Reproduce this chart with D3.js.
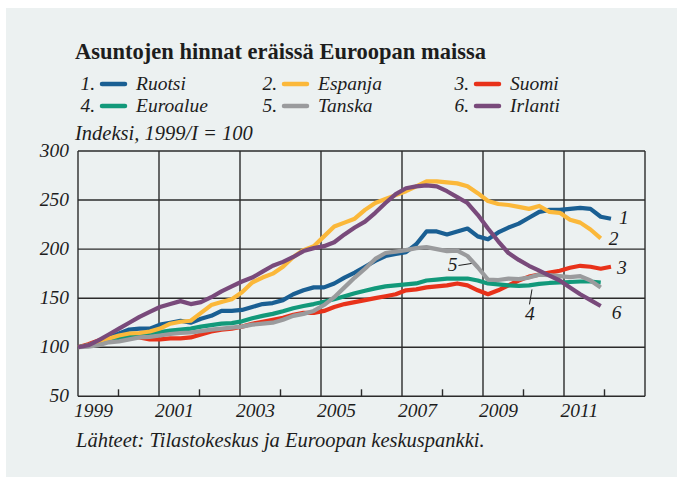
<!DOCTYPE html>
<html>
<head>
<meta charset="utf-8">
<script src="https://cdn.jsdelivr.net/npm/d3@7"></script>
<style>
body { margin: 0; background: #fff; }
svg { display: block; }
text { font-family: "Liberation Serif", serif; fill: #1d1d1d; }
</style>
</head>
<body>
<svg id="chart"></svg>
<script>
let title = "Asuntojen hinnat eräissä Euroopan maissa"
let unitText = "Indeksi, 1999/I = 100"
let sourceText = "Lähteet: Tilastokeskus ja Euroopan keskuspankki."

let names = ["Ruotsi", "Espanja", "Suomi", "Euroalue", "Tanska", "Irlanti"]
let colors = ["#1a5f93", "#fbb83a", "#e8321a", "#12997a", "#9a9b9d", "#794a7b"]

// quarterly index values, 1999/I = 100
let ruotsi = [100,102,106,110,114,118,119,119,123,125,127,125,129,132,137,137,138,141,144,145,148,154,158,161,161,165,171,176,182,188,193,195,197,205,218,218,215,218,221,213,210,217,222,226,232,238,240,240,241,242,241,233,231]
let espanja = [100,102,106,109,112,114,114.5,116,119,124,126,127,135,143,146,149,156,166,171,175,182,192,199,203,213,223,227,231,240,247,251,255,259,264,269,269,268,267,264,257,249,246,245,243,241,244,238,237,230,227,220,211]
let suomi = [100,103,107,109,111,112,110,108,108,109,109,110,113,116,118,119,121,124,126,128,130,133,135,135,137,141,144,146,148,150,152,154,158,159,161,162,163,165,163,158,154,158,163,168,172,174,176,178,181,183,182,180,182]
let euroalue = [100,102,105,107,109,111,112.5,114,115.5,117,118,119,121,122.6,124,124.6,126.4,129.5,132,134,136.6,139.7,142,144,146.4,149,152,155,157.6,160,162,163,164,165,168,169,170,170,170,168,165,164,163,162.5,163,164.5,165.5,166,166.5,167,167,166]
let tanska = [100,100.5,102,105,106,108,110,110.5,112,113.5,114.5,115,116.5,118,119,120,121,123,124,125,128,132,134,137,143,151,161,171,180,190,196,197.5,199,201,202,200,198,198.5,193,181.5,169,168.5,170,169.5,171,174,173.5,172.5,171.5,172.5,168,161]
let irlanti = [100,102,107,113,119,125,131,136,141,144,147,144,146,151,157,162,167,171,177,183,187,192,198,201,203,207,215,222,228,237,247,256,262,264,265,264,259,253,247,235,221,208,196,189,183,178,173,168,161,154,148,142]

let series = [ruotsi, espanja, suomi, euroalue, tanska, irlanti]
let drawOrder = [2, 3, 0, 1, 4, 5]

let yTicks = [50, 100, 150, 200, 250, 300]
let yearLabels = [1999, 2001, 2003, 2005, 2007, 2009, 2011]
let minorYears = [2000, 2002, 2004, 2006, 2008, 2010, 2012]

let width = 677
let height = 477
let plotLeft = 78
let plotRight = 645
let plotTop = 151
let plotBottom = 396.3

let svg = d3.select("#chart").attr("width", width).attr("height", height)

svg.append("rect")
    .attr("x", 6).attr("y", 8)
    .attr("width", width - 6).attr("height", height - 8)
    .attr("fill", "#ecf1f1")

let xScale = d3.scaleLinear().domain([1999, 2013]).range([plotLeft, plotRight])
let yScale = d3.scaleLinear().domain([50, 300]).range([plotBottom, plotTop])
// quarter index -> position (series run from 1999/I to 2012/I)
let qScale = d3.scaleLinear().domain([0, 52]).range([xScale(1999), xScale(2012.16)])

// title + legend
svg.append("text")
    .attr("x", 75).attr("y", 59)
    .attr("font-size", 22.5).attr("font-weight", "bold")
    .text(title)

let legendCols = [100, 282, 474]
let legendRows = [90, 112]
names.forEach((name, i) => {
    let lx = legendCols[i % 3]
    let ly = legendRows[Math.floor(i / 3)]
    let g = svg.append("g").attr("font-size", 19.5).attr("font-style", "italic")
    g.append("text").attr("x", lx - 5).attr("y", ly).attr("text-anchor", "end").text((i + 1) + ".")
    g.append("line")
        .attr("x1", lx + 2).attr("x2", lx + 25)
        .attr("y1", ly - 6).attr("y2", ly - 6)
        .attr("stroke", colors[i]).attr("stroke-width", 4.5)
        .attr("stroke-linecap", "round")
    g.append("text").attr("x", lx + 36).attr("y", ly).text(name)
})

svg.append("text")
    .attr("x", 75).attr("y", 140)
    .attr("font-size", 20.5).attr("font-style", "italic")
    .text(unitText)

// grid
let grid = svg.append("g").attr("stroke", "#2b2b2b").attr("stroke-width", 1.4)
grid.selectAll(".hline")
    .data(yTicks)
    .enter()
    .append("line")
    .attr("x1", plotLeft).attr("x2", plotRight)
    .attr("y1", d => yScale(d)).attr("y2", d => yScale(d))
grid.selectAll(".vline")
    .data(yearLabels.concat([2013]))
    .enter()
    .append("line")
    .attr("x1", d => xScale(d)).attr("x2", d => xScale(d))
    .attr("y1", plotTop).attr("y2", plotBottom)
grid.selectAll(".tick")
    .data(minorYears)
    .enter()
    .append("line")
    .attr("x1", d => xScale(d)).attr("x2", d => xScale(d))
    .attr("y1", plotBottom).attr("y2", plotBottom - 7)

svg.append("g")
    .selectAll("text")
    .data(yTicks)
    .enter()
    .append("text")
    .attr("x", 69)
    .attr("y", d => yScale(d) + 6)
    .attr("text-anchor", "end")
    .attr("font-size", 19.5).attr("font-style", "italic")
    .text(d => d)

svg.append("g")
    .selectAll("text")
    .data(yearLabels)
    .enter()
    .append("text")
    .attr("x", d => xScale(d + 0.38))
    .attr("y", 417)
    .attr("text-anchor", "middle")
    .attr("font-size", 19.5).attr("font-style", "italic")
    .text(d => d)

// lines
let line = d3.line()
    .x((d, i) => qScale(i))
    .y(d => yScale(d))

drawOrder.forEach(k => {
    svg.append("path")
        .datum(series[k])
        .attr("d", line)
        .attr("fill", "none")
        .attr("stroke", colors[k])
        .attr("stroke-width", 4.2)
        .attr("stroke-linejoin", "round")
})

// end labels
let endLabels = [
    { s: 0, text: "1", dx: 8, dy: 5 },
    { s: 1, text: "2", dx: 8, dy: 7 },
    { s: 2, text: "3", dx: 6, dy: 7 },
    { s: 5, text: "6", dx: 11, dy: 13 }
]
endLabels.forEach(l => {
    let data = series[l.s]
    let i = data.length - 1
    svg.append("text")
        .attr("x", qScale(i) + l.dx)
        .attr("y", yScale(data[i]) + l.dy)
        .attr("font-size", 19.5).attr("font-style", "italic")
        .text(l.text)
})

// "4" leader under Euroalue
let p4x = qScale(44), p4y = yScale(euroalue[44])
svg.append("line")
    .attr("x1", p4x + 3).attr("y1", p4y + 4)
    .attr("x2", p4x + 0.5).attr("y2", p4y + 19)
    .attr("stroke", "#1d1d1d").attr("stroke-width", 1)
svg.append("text")
    .attr("x", p4x + 1).attr("y", p4y + 35)
    .attr("text-anchor", "middle")
    .attr("font-size", 19.5).attr("font-style", "italic")
    .text("4")

// "5" leader to Tanska
let p5x = qScale(38), p5y = yScale(tanska[38])
svg.append("line")
    .attr("x1", p5x - 9).attr("y1", p5y + 9.5)
    .attr("x2", p5x + 4).attr("y2", p5y + 7.5)
    .attr("stroke", "#1d1d1d").attr("stroke-width", 1)
svg.append("text")
    .attr("x", p5x - 10).attr("y", p5y + 15.5)
    .attr("text-anchor", "end")
    .attr("font-size", 19.5).attr("font-style", "italic")
    .text("5")

svg.append("text")
    .attr("x", 76).attr("y", 447)
    .attr("font-size", 20.5).attr("font-style", "italic")
    .text(sourceText)
</script>
</body>
</html>
